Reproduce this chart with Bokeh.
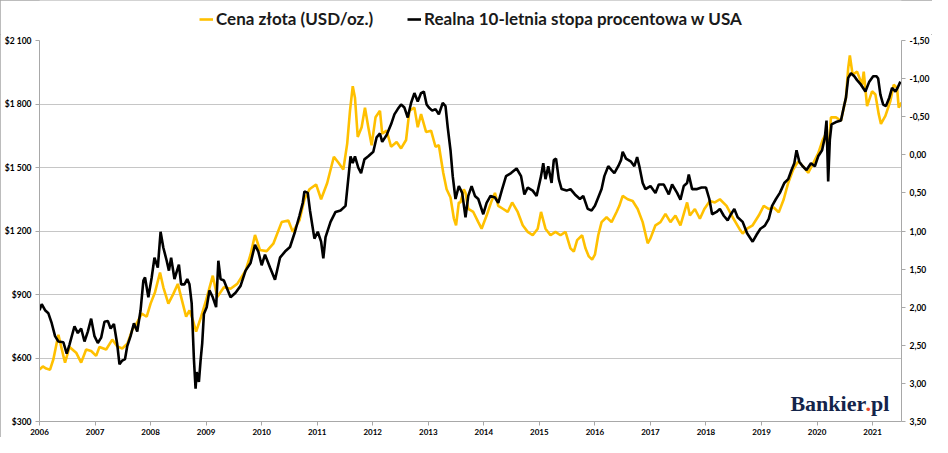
from bokeh.plotting import figure
from bokeh.layouts import column
from bokeh.models import (Range1d, LinearAxis, FixedTicker, CustomJSTickFormatter,
                          Legend, LegendItem, Label)
from bokeh.embed import file_html
from bokeh.resources import INLINE

# ---- data ----
gold_t = [2006.00, 2006.06, 2006.12, 2006.19, 2006.25, 2006.34, 2006.43, 2006.46, 2006.54, 2006.66,
          2006.75, 2006.84, 2006.93, 2007.02, 2007.08, 2007.20, 2007.31, 2007.40, 2007.49, 2007.58,
          2007.67, 2007.75, 2007.84, 2007.93, 2008.00, 2008.08, 2008.17, 2008.23, 2008.32, 2008.41,
          2008.49, 2008.58, 2008.64, 2008.70, 2008.76, 2008.82, 2008.91, 2009.00, 2009.12, 2009.20,
          2009.32, 2009.44, 2009.56, 2009.71, 2009.80, 2009.88, 2009.97, 2010.09, 2010.21, 2010.36,
          2010.48, 2010.56, 2010.68, 2010.77, 2010.86, 2010.98, 2011.07, 2011.18, 2011.30, 2011.39,
          2011.47, 2011.54, 2011.59, 2011.64, 2011.68, 2011.73, 2011.80, 2011.86, 2011.92, 2011.98,
          2012.05, 2012.13, 2012.17, 2012.25, 2012.33, 2012.43, 2012.51, 2012.60, 2012.66, 2012.75,
          2012.81, 2012.87, 2012.96, 2013.05, 2013.13, 2013.19, 2013.27, 2013.33, 2013.40, 2013.46,
          2013.50, 2013.55, 2013.58, 2013.64, 2013.67, 2013.72, 2013.81, 2013.90, 2013.96, 2014.05,
          2014.14, 2014.20, 2014.26, 2014.35, 2014.43, 2014.51, 2014.61, 2014.70, 2014.79, 2014.88,
          2014.97, 2015.03, 2015.11, 2015.20, 2015.29, 2015.38, 2015.47, 2015.56, 2015.62, 2015.68,
          2015.77, 2015.83, 2015.89, 2015.95, 2016.00, 2016.06, 2016.12, 2016.21, 2016.30, 2016.39,
          2016.44, 2016.50, 2016.59, 2016.68, 2016.77, 2016.86, 2016.95, 2017.00, 2017.09, 2017.18,
          2017.27, 2017.36, 2017.45, 2017.54, 2017.66, 2017.71, 2017.80, 2017.89, 2017.97, 2018.07,
          2018.16, 2018.25, 2018.37, 2018.48, 2018.60, 2018.66, 2018.74, 2018.84, 2018.95, 2019.04,
          2019.13, 2019.22, 2019.31, 2019.40, 2019.48, 2019.57, 2019.66, 2019.75, 2019.84, 2019.93,
          2020.02, 2020.10, 2020.16, 2020.20, 2020.25, 2020.34, 2020.43, 2020.52, 2020.56, 2020.59,
          2020.64, 2020.72, 2020.81, 2020.84, 2020.90, 2020.99, 2021.05, 2021.11, 2021.15, 2021.23,
          2021.32, 2021.38, 2021.44, 2021.47, 2021.52]
gold_usd = [546, 560, 550, 545, 594, 710, 610, 578, 652, 625,
            578, 640, 633, 610, 652, 640, 687, 655, 645, 667,
            733, 764, 810, 795, 857, 911, 1004, 934, 857, 903,
            950, 857, 795, 825, 780, 725, 795, 873, 989, 888,
            934, 927, 950, 1012, 1089, 1181, 1110, 1105, 1140, 1242,
            1250, 1196, 1250, 1350, 1397, 1420, 1350, 1427, 1551, 1520,
            1490, 1613, 1768, 1884, 1830, 1644, 1690, 1783, 1690, 1605,
            1737, 1768, 1660, 1674, 1598, 1620, 1590, 1630, 1768, 1783,
            1690, 1752, 1668, 1674, 1598, 1605, 1474, 1397, 1358, 1260,
            1227, 1335, 1335, 1397, 1380, 1304, 1290, 1242, 1211, 1273,
            1342, 1380, 1319, 1304, 1290, 1335, 1290, 1227, 1196, 1180,
            1211, 1290, 1211, 1180, 1196, 1180, 1196, 1118, 1103, 1157,
            1180, 1118, 1080, 1065, 1088, 1180, 1242, 1265, 1242, 1290,
            1319, 1366, 1350, 1342, 1304, 1242, 1142, 1165, 1227, 1242,
            1281, 1242, 1273, 1227, 1335, 1273, 1304, 1258, 1304, 1342,
            1335, 1350, 1319, 1265, 1211, 1188, 1211, 1227, 1273, 1319,
            1304, 1311, 1288, 1350, 1427, 1490, 1529, 1505, 1475, 1520,
            1567, 1629, 1660, 1567, 1737, 1737, 1721, 1830, 1969, 2030,
            1938, 1953, 1891, 1953, 1790, 1860, 1845, 1752, 1706, 1744,
            1814, 1891, 1876, 1783, 1806]

rate_t = [2006.00, 2006.04, 2006.10, 2006.16, 2006.22, 2006.28, 2006.34, 2006.43, 2006.49, 2006.54,
          2006.63, 2006.69, 2006.75, 2006.81, 2006.87, 2006.93, 2006.99, 2007.05, 2007.11, 2007.17,
          2007.23, 2007.28, 2007.34, 2007.40, 2007.44, 2007.49, 2007.54, 2007.58, 2007.64, 2007.70,
          2007.76, 2007.82, 2007.87, 2007.90, 2007.96, 2008.02, 2008.07, 2008.13, 2008.18, 2008.23,
          2008.29, 2008.33, 2008.37, 2008.43, 2008.51, 2008.55, 2008.61, 2008.66, 2008.70, 2008.74,
          2008.78, 2008.81, 2008.83, 2008.87, 2008.90, 2008.93, 2008.96, 2009.01, 2009.06, 2009.12,
          2009.18, 2009.22, 2009.26, 2009.32, 2009.38, 2009.44, 2009.53, 2009.62, 2009.71, 2009.80,
          2009.88, 2009.94, 2010.00, 2010.06, 2010.15, 2010.24, 2010.33, 2010.42, 2010.51, 2010.60,
          2010.68, 2010.74, 2010.77, 2010.83, 2010.87, 2010.95, 2011.01, 2011.07, 2011.11, 2011.15,
          2011.24, 2011.33, 2011.42, 2011.51, 2011.57, 2011.60, 2011.64, 2011.68, 2011.74, 2011.79,
          2011.85, 2011.92, 2012.01, 2012.07, 2012.13, 2012.17, 2012.25, 2012.33, 2012.39, 2012.45,
          2012.51, 2012.57, 2012.63, 2012.69, 2012.75, 2012.81, 2012.87, 2012.92, 2012.97, 2013.01,
          2013.07, 2013.13, 2013.19, 2013.26, 2013.31, 2013.35, 2013.40, 2013.44, 2013.49, 2013.55,
          2013.61, 2013.67, 2013.72, 2013.78, 2013.84, 2013.90, 2013.99, 2014.05, 2014.12, 2014.20,
          2014.26, 2014.33, 2014.40, 2014.49, 2014.59, 2014.67, 2014.73, 2014.79, 2014.88, 2014.95,
          2015.03, 2015.07, 2015.11, 2015.16, 2015.22, 2015.26, 2015.30, 2015.35, 2015.40, 2015.49,
          2015.56, 2015.64, 2015.73, 2015.79, 2015.87, 2015.94, 2016.00, 2016.06, 2016.12, 2016.17,
          2016.24, 2016.30, 2016.35, 2016.42, 2016.47, 2016.50, 2016.56, 2016.65, 2016.71, 2016.76,
          2016.80, 2016.86, 2016.91, 2017.00, 2017.09, 2017.15, 2017.24, 2017.33, 2017.39, 2017.48,
          2017.54, 2017.60, 2017.66, 2017.69, 2017.75, 2017.84, 2017.92, 2018.00, 2018.06, 2018.11,
          2018.19, 2018.25, 2018.32, 2018.39, 2018.45, 2018.51, 2018.57, 2018.66, 2018.74, 2018.84,
          2018.91, 2018.98, 2019.06, 2019.13, 2019.19, 2019.26, 2019.33, 2019.41, 2019.48, 2019.54,
          2019.59, 2019.63, 2019.68, 2019.74, 2019.81, 2019.89, 2019.96, 2020.02, 2020.09, 2020.14,
          2020.17, 2020.20, 2020.23, 2020.26, 2020.34, 2020.43, 2020.48, 2020.52, 2020.56, 2020.61,
          2020.67, 2020.72, 2020.79, 2020.87, 2020.94, 2021.01, 2021.07, 2021.10, 2021.14, 2021.19,
          2021.24, 2021.30, 2021.35, 2021.41, 2021.45, 2021.50]
real_rate = [2.04, 1.96, 2.04, 2.08, 2.21, 2.38, 2.45, 2.46, 2.61, 2.49,
             2.25, 2.34, 2.28, 2.45, 2.32, 2.15, 2.38, 2.47, 2.40, 2.19,
             2.18, 2.28, 2.22, 2.49, 2.75, 2.70, 2.68, 2.51, 2.38, 2.21,
             2.32, 2.04, 1.65, 1.61, 1.87, 1.61, 1.35, 1.48, 1.01, 1.22,
             1.39, 1.52, 1.35, 1.63, 1.44, 1.70, 1.70, 1.63, 1.70, 1.95,
             2.68, 3.07, 2.85, 2.98, 2.70, 2.47, 2.09, 2.00, 1.78, 1.87,
             2.00, 1.39, 1.63, 1.65, 1.76, 1.87, 1.81, 1.72, 1.52, 1.42,
             1.18, 1.27, 1.45, 1.31, 1.48, 1.64, 1.35, 1.27, 1.21, 1.01,
             0.80, 0.63, 0.48, 0.50, 0.73, 1.10, 1.01, 1.14, 1.36, 1.08,
             0.88, 0.75, 0.73, 0.67, 0.24, 0.02, 0.11, 0.02, 0.17, 0.24,
             0.06, 0.02, -0.04, -0.23, -0.28, -0.17, -0.26, -0.40, -0.53, -0.60,
             -0.66, -0.62, -0.49, -0.68, -0.81, -0.70, -0.81, -0.83, -0.66, -0.62,
             -0.58, -0.60, -0.53, -0.68, -0.64, -0.36, -0.06, 0.28, 0.58, 0.41,
             0.50, 0.82, 0.54, 0.41, 0.54, 0.58, 0.78, 0.63, 0.54, 0.56,
             0.63, 0.45, 0.28, 0.24, 0.18, 0.28, 0.52, 0.43, 0.47, 0.54,
             0.28, 0.11, 0.32, 0.15, 0.37, 0.07, 0.05, 0.32, 0.45, 0.47,
             0.45, 0.52, 0.58, 0.54, 0.71, 0.73, 0.67, 0.56, 0.45, 0.28,
             0.15, 0.20, 0.24, 0.15, 0.07, -0.04, 0.05, 0.09, 0.15, 0.03,
             0.15, 0.37, 0.45, 0.41, 0.50, 0.39, 0.39, 0.52, 0.39, 0.50,
             0.59, 0.41, 0.37, 0.26, 0.45, 0.45, 0.43, 0.43, 0.58, 0.78,
             0.75, 0.71, 0.80, 0.86, 0.78, 0.71, 0.82, 0.88, 1.03, 1.14,
             1.05, 0.97, 0.93, 0.84, 0.67, 0.58, 0.50, 0.37, 0.32, 0.20,
             0.11, -0.06, 0.09, 0.15, 0.20, 0.11, 0.15, 0.02, -0.06, -0.23,
             -0.45, 0.35, -0.20, -0.40, -0.43, -0.45, -0.62, -0.75, -1.01, -1.07,
             -1.03, -0.98, -0.92, -0.83, -0.96, -1.03, -1.03, -1.00, -0.79, -0.66,
             -0.64, -0.75, -0.88, -0.83, -0.88, -0.96]

year_ticks = list(range(2006, 2022))
gold_ticks = [300, 600, 900, 1200, 1500, 1800, 2100]
rate_ticks = [-1.5, -1.0, -0.5, 0.0, 0.5, 1.0, 1.5, 2.0, 2.5, 3.0, 3.5]

gold_label = "Cena złota (USD/oz.)"
rate_label = "Realna 10-letnia stopa procentowa w USA"

GOLD = "#FFC000"
GRID = "#c6c6c6"
AXIS = "#a8a8a8"
FONT = "Lato"

W = 932
LEG_H = 34
H = 437 - LEG_H
B_LEFT, B_RIGHT, B_TOP, B_BOTTOM = 39, 29, 6, 15

# ---------------- main chart ----------------
p = figure(width=W, height=H, output_backend="svg", toolbar_location=None,
           x_range=Range1d(2006, 2021.52), y_range=Range1d(300, 2100),
           min_border_left=B_LEFT, min_border_right=B_RIGHT,
           min_border_top=B_TOP, min_border_bottom=B_BOTTOM,
           background_fill_color="white", border_fill_color="white")
p.extra_y_ranges = {"rate": Range1d(3.5, -1.5)}
p.outline_line_color = None

p.line(gold_t, gold_usd, line_color=GOLD, line_width=2.6)
p.line(rate_t, real_rate, line_color="black", line_width=2.6, y_range_name="rate")

p.xgrid.visible = False
p.ygrid.ticker = FixedTicker(ticks=gold_ticks)
p.ygrid.grid_line_color = GRID
p.ygrid.grid_line_width = 1

def style_axis(ax, size):
    ax.axis_line_color = AXIS
    ax.major_tick_line_color = AXIS
    ax.minor_tick_line_color = None
    ax.major_tick_in = 0
    ax.major_tick_out = 4
    ax.major_label_text_font = FONT
    ax.major_label_text_font_style = "bold"
    ax.major_label_text_font_size = size
    ax.major_label_text_color = "black"
    ax.major_label_standoff = 4

xa = p.xaxis[0]
xa.ticker = FixedTicker(ticks=year_ticks)
xa.formatter = CustomJSTickFormatter(code="return tick.toFixed(0);")
style_axis(xa, "8px")
xa.major_label_standoff = 3

ya = p.yaxis[0]
ya.ticker = FixedTicker(ticks=gold_ticks)
ya.formatter = CustomJSTickFormatter(code="""
const s = Math.round(tick).toString();
return '$' + (s.length > 3 ? s.slice(0, -3) + ' ' + s.slice(-3) : s);
""")
style_axis(ya, "8.5px")

ra = LinearAxis(y_range_name="rate",
                ticker=FixedTicker(ticks=rate_ticks),
                formatter=CustomJSTickFormatter(code="return tick.toFixed(2).replace('.', ',');"))
style_axis(ra, "8.5px")
p.add_layout(ra, "right")

# watermark
NAVY = "#14244a"
wm_x, wm_y = 2019.52, 385
for txt, off, col in [("Bankier", 0, NAVY), (".", 75, "#e8462a"), ("pl", 80.5, NAVY)]:
    p.add_layout(Label(x=wm_x, y=wm_y, x_offset=off, text=txt, text_font="Liberation Serif",
                       text_font_style="bold", text_font_size="22px", text_color=col,
                       text_baseline="alphabetic"))

# ---------------- legend strip on top ----------------
lg = figure(width=W, height=LEG_H, output_backend="svg", toolbar_location=None,
            x_range=Range1d(0, 1), y_range=Range1d(0, 1),
            min_border_left=0, min_border_right=0, min_border_top=0, min_border_bottom=0,
            background_fill_color="white", border_fill_color="white")
lg.axis.visible = False
lg.grid.visible = False
lg.outline_line_color = None
# key renderers reuse the series (they fall outside this strip's ranges, only their legend keys show)
k_gold = lg.line(gold_t, gold_usd, line_color=GOLD, line_width=2.6)
k_rate = lg.line(rate_t, real_rate, line_color="black", line_width=2.6)
legend = Legend(items=[LegendItem(label=gold_label, renderers=[k_gold]),
                       LegendItem(label=rate_label, renderers=[k_rate])],
                orientation="horizontal", location=(160, 5))
legend.label_text_font = FONT
legend.label_text_font_style = "bold"
legend.label_text_font_size = "17px"
legend.label_text_color = "#1a1a1a"
legend.glyph_width = 14
legend.glyph_height = 20
legend.label_standoff = 3
legend.spacing = 34
legend.border_line_color = None
legend.background_fill_alpha = 0
legend.padding = 2
legend.margin = 0
lg.add_layout(legend, "center")

layout = column(lg, p, spacing=0)
layout.styles = {"outline": "1px solid #a6a6a6", "outline-offset": "-1px"}

open("out.html", "w").write(file_html(layout, INLINE))
